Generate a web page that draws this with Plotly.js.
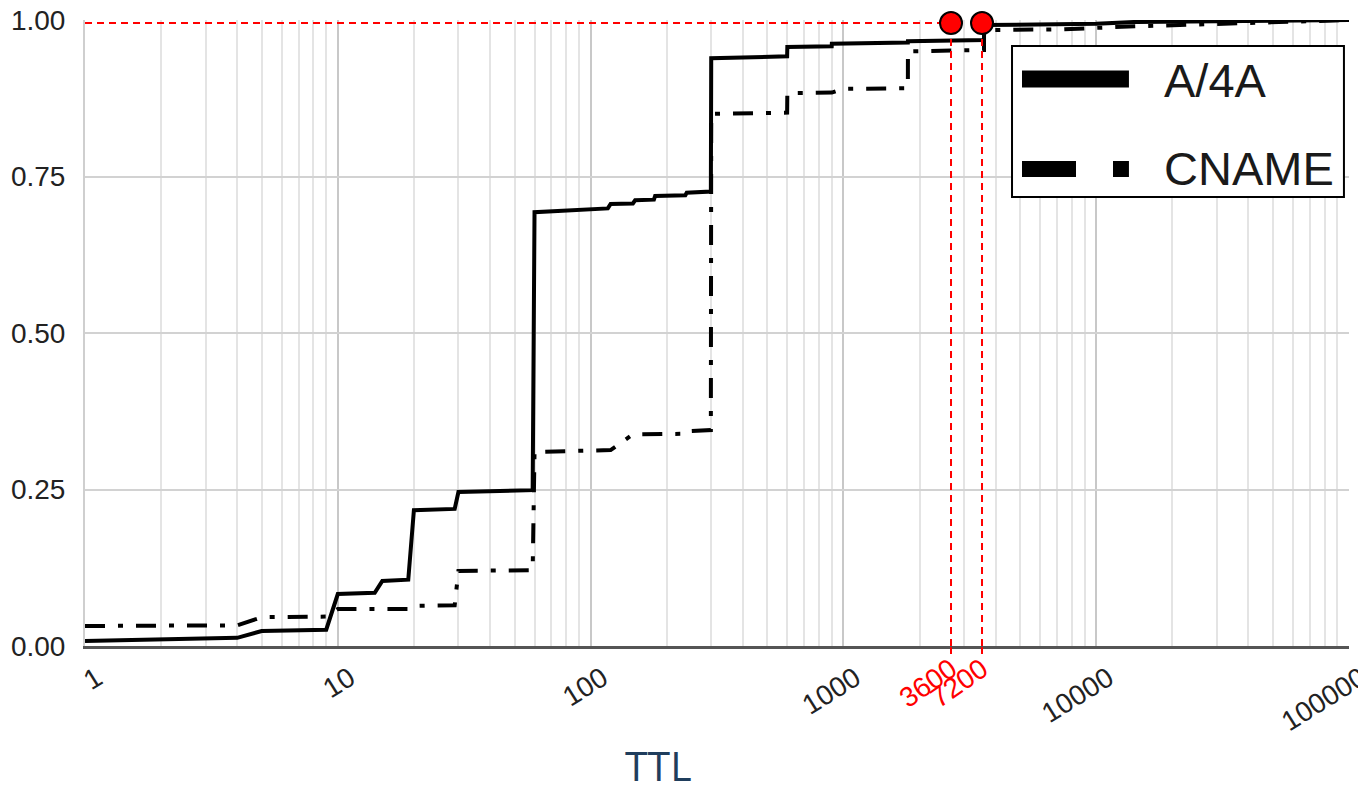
<!DOCTYPE html>
<html>
<head>
<meta charset="utf-8">
<script src="https://cdn.plot.ly/plotly-3.0.1.min.js"></script>
<style>
  html, body { margin: 0; padding: 0; background: #ffffff; overflow: hidden; }
  #chart { width: 1358px; height: 793px; }
</style>
</head>
<body>
<div id="chart"></div>
<script>
// ---- Data ----
const A4A_TTL = [1, 4, 5, 9, 10, 14, 15, 19, 20, 29, 30, 59, 60, 117, 120, 147, 150, 178, 180, 237, 240, 299, 300, 599, 600, 899, 900, 1799, 1800, 3599, 3600, 10000, 14400, 86400, 100000];
const A4A_CDF = [0.008, 0.013, 0.024, 0.026, 0.083, 0.085, 0.104, 0.106, 0.217, 0.219, 0.246, 0.249, 0.693, 0.699, 0.706, 0.707, 0.712, 0.713, 0.719, 0.720, 0.724, 0.726, 0.939, 0.942, 0.957, 0.958, 0.962, 0.964, 0.966, 0.968, 0.992, 0.994, 0.997, 0.999, 1.0];

const CNAME_TTL = [1, 4, 5, 9, 10, 19, 20, 29, 30, 59, 60, 100, 120, 147, 237, 240, 299, 300, 599, 600, 900, 1000, 1799, 1800, 3599, 3600, 7200, 14400, 86400, 100000];
const CNAME_CDF = [0.032, 0.033, 0.046, 0.047, 0.059, 0.059, 0.064, 0.065, 0.120, 0.121, 0.310, 0.312, 0.313, 0.338, 0.339, 0.343, 0.345, 0.850, 0.852, 0.883, 0.884, 0.890, 0.891, 0.950, 0.952, 0.984, 0.985, 0.990, 0.998, 1.0];

const SERIES_NAMES = ["A/4A", "CNAME"];

// Highlighted reference TTLs (red overlay)
const REF_TTL = [3600, 7200];
const REF_CDF = [1, 1];
const REF_LABELS = ["3600", "7200"];

// Axis ticks
const X_TICKVALS = [1, 10, 100, 1000, 10000, 100000];
const X_TICKTEXT = ["1", "10", "100", "1000", "10000", "100000"];
const Y_TICKVALS = [0, 0.25, 0.5, 0.75, 1.0];

// Overlay axis range (log10) used by the red annotation layer
const X2_RANGE = [-4.853, 7.421];

// ---- Traces ----
const traces = [
  {
    x: A4A_TTL, y: A4A_CDF, name: SERIES_NAMES[0],
    type: "scatter", mode: "lines", xaxis: "x", yaxis: "y",
    line: { color: "#000000", width: 4 }, showlegend: false, hoverinfo: "x+y"
  },
  {
    x: CNAME_TTL, y: CNAME_CDF, name: SERIES_NAMES[1],
    type: "scatter", mode: "lines", xaxis: "x", yaxis: "y",
    line: { color: "#000000", width: 4, dash: "20px,13px,5px,13px" }, showlegend: false, hoverinfo: "x+y"
  },
  // red horizontal reference line from the left edge to the first highlighted TTL
  {
    x: [Math.pow(10, X2_RANGE[0]), REF_TTL[0]], y: [REF_CDF[0], REF_CDF[0]],
    type: "scatter", mode: "lines", xaxis: "x2", yaxis: "y2",
    line: { color: "#ff0000", width: 2, dash: "7px,5px" }, showlegend: false, hoverinfo: "skip"
  }
];
// red vertical reference lines
REF_TTL.forEach(function (t, i) {
  traces.push({
    x: [t, t], y: [0, REF_CDF[i]],
    type: "scatter", mode: "lines", xaxis: "x2", yaxis: "y2",
    line: { color: "#ff0000", width: 2, dash: "7px,5px" }, showlegend: false, hoverinfo: "skip"
  });
});
// red markers
traces.push({
  x: REF_TTL, y: REF_CDF,
  type: "scatter", mode: "markers", xaxis: "x2", yaxis: "y2", cliponaxis: false,
  marker: { color: "#ff0000", size: 22, line: { color: "#000000", width: 2 } },
  showlegend: false, hoverinfo: "x"
});

// ---- Manual legend (thick symbols, like the reference) ----
const legendShapes = [
  { type: "rect", xref: "paper", yref: "paper", x0: 0.7334, x1: 0.9960, y0: 0.7173, y1: 0.9585,
    line: { color: "#000000", width: 2 }, fillcolor: "#ffffff", layer: "above" },
  { type: "line", xref: "paper", yref: "paper", x0: 0.7413, x1: 0.8259, y0: 0.9058, y1: 0.9058,
    line: { color: "#000000", width: 17 }, layer: "above" },
  { type: "line", xref: "paper", yref: "paper", x0: 0.7413, x1: 0.8259, y0: 0.7620, y1: 0.7620,
    line: { color: "#000000", width: 16, dash: "54px,37px,16px,200px" }, layer: "above" }
];

const annotations = [
  { text: SERIES_NAMES[0], xref: "paper", yref: "paper", x: 0.852, y: 0.903,
    xanchor: "left", yanchor: "middle", showarrow: false,
    font: { family: "Liberation Sans, Arial, sans-serif", size: 47, color: "#1a1a1a" } },
  { text: SERIES_NAMES[1], xref: "paper", yref: "paper", x: 0.852, y: 0.763,
    xanchor: "left", yanchor: "middle", showarrow: false,
    font: { family: "Liberation Sans, Arial, sans-serif", size: 47, color: "#1a1a1a" } },
  { text: "TTL", xref: "paper", yref: "paper", x: 0.454, y: -0.190,
    xanchor: "center", yanchor: "middle", showarrow: false,
    font: { family: "Open Sans, sans-serif", size: 41, color: "#1f3d5c" } }
];

const tickFont = { family: "Liberation Sans, Arial, sans-serif", size: 28, color: "#222222" };

const layout = {
  width: 1358, height: 793,
  margin: { l: 85, r: 9, t: 20, b: 147, pad: 0 },
  paper_bgcolor: "#ffffff", plot_bgcolor: "#ffffff",
  showlegend: false,
  xaxis: {
    type: "log", range: [0, 5], domain: [0, 1],
    tickmode: "array", tickvals: X_TICKVALS, ticktext: X_TICKTEXT,
    tickangle: -32, tickfont: tickFont, ticks: "", ticklabelstandoff: 2, ticklabelshift: 12,
    ticklabeloverflow: "allow",
    showgrid: true, gridcolor: "#c8c8c8", gridwidth: 2,
    minor: { dtick: "D1", showgrid: true, gridcolor: "#e4e4e4", gridwidth: 2, ticks: "" },
    showline: true, linecolor: "#555555", linewidth: 3, mirror: false,
    zeroline: false, fixedrange: true
  },
  yaxis: {
    range: [0, 1], domain: [0, 1],
    tickmode: "array", tickvals: Y_TICKVALS, tickformat: ".2f",
    tickfont: { family: "Liberation Sans, Arial, sans-serif", size: 28, color: "#222222" },
    ticks: "", ticklabelstandoff: 12, ticklabeloverflow: "allow",
    showgrid: true, gridcolor: "#d2d2d2", gridwidth: 2,
    showline: true, linecolor: "#cfcfcf", linewidth: 2,
    zeroline: false, fixedrange: true
  },
  xaxis2: {
    type: "log", range: X2_RANGE, overlaying: "x", anchor: "y2", side: "bottom",
    tickmode: "array", tickvals: REF_TTL, ticktext: REF_LABELS,
    tickangle: -35, tickfont: { family: "Liberation Sans, Arial, sans-serif", size: 28, color: "#ff0000" },
    ticks: "outside", ticklen: 7, tickwidth: 2, tickcolor: "#ff0000",
    ticklabelstandoff: -12, ticklabeloverflow: "allow",
    showgrid: false, showline: false, zeroline: false, fixedrange: true
  },
  yaxis2: {
    range: [0, 1.005], overlaying: "y", anchor: "x2", visible: false, fixedrange: true
  },
  shapes: legendShapes,
  annotations: annotations
};

Plotly.newPlot("chart", traces, layout, { displayModeBar: false, staticPlot: true });
</script>
</body>
</html>
